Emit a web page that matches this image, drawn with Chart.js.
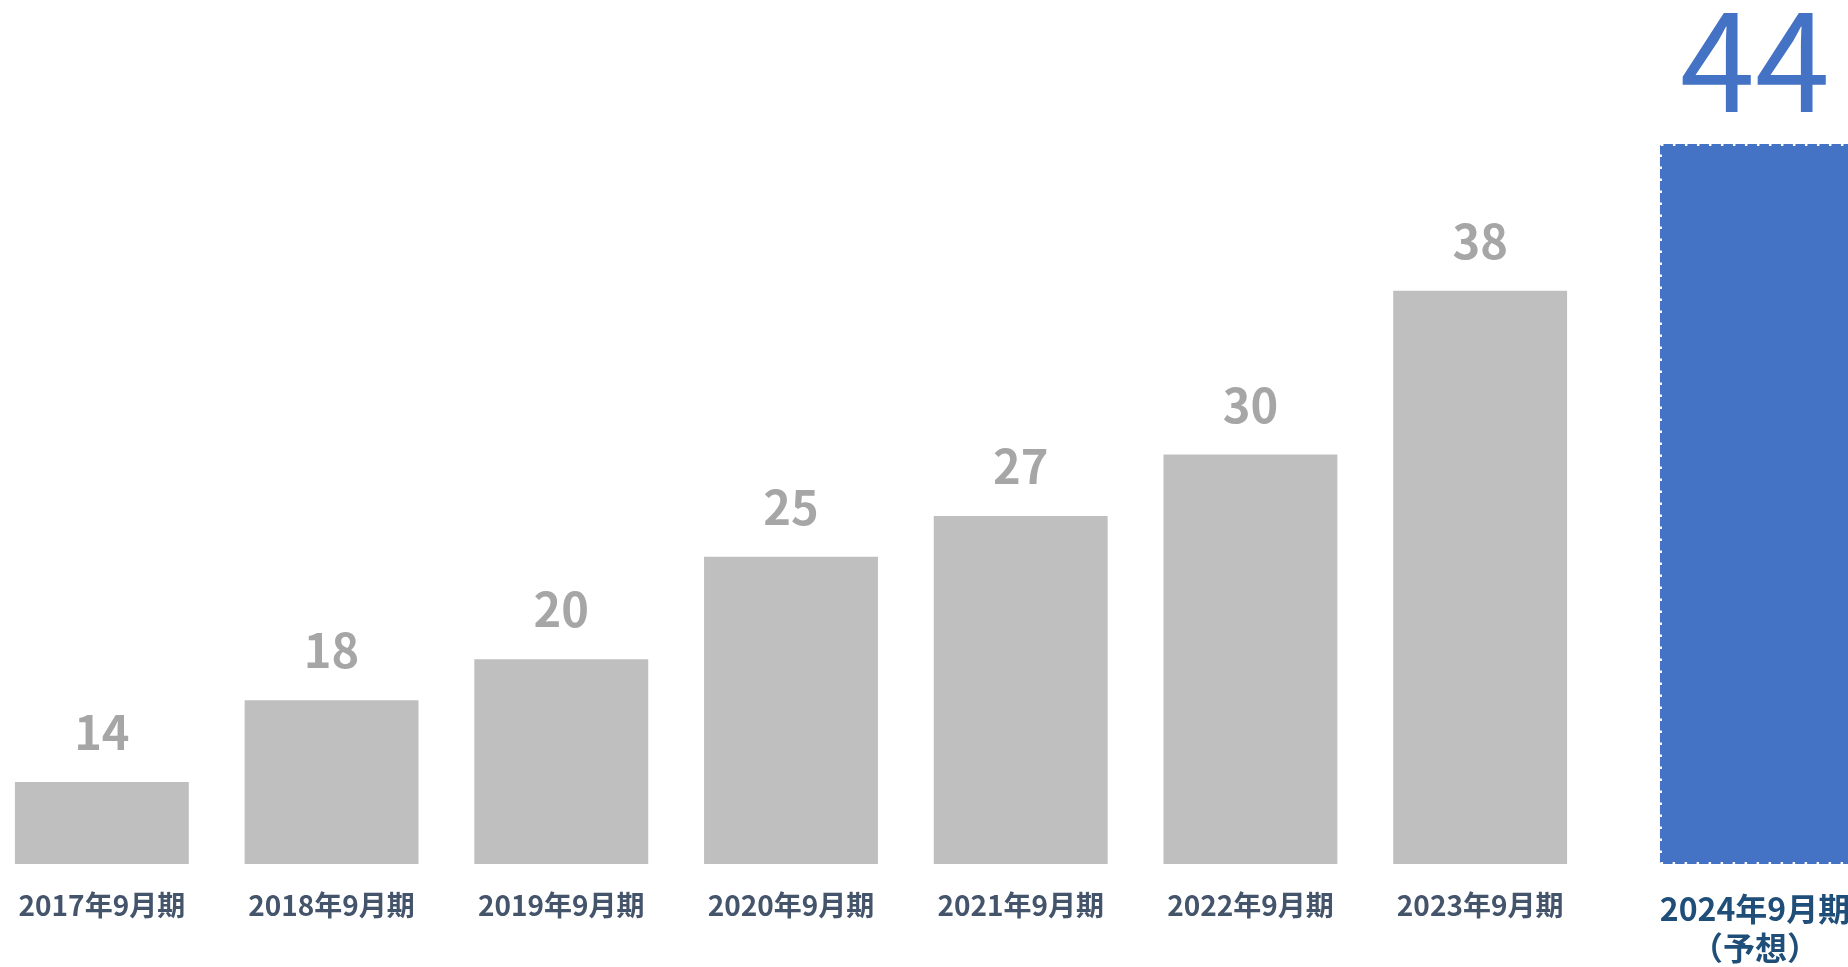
<!DOCTYPE html>
<html lang="ja">
<head>
<meta charset="utf-8">
<title>期別推移</title>
<script src="https://cdn.jsdelivr.net/npm/chart.js@4.4.1/dist/chart.umd.min.js"></script>
<style>
    html, body { margin: 0; padding: 0; background: #fff; overflow: hidden; }
    #wrap { position: relative; width: 1848px; height: 967px; overflow: hidden; }
    #myChart { position: absolute; left: -13px; top: 0; }
</style>
</head>
<body>
<div id="wrap"><canvas id="myChart" width="1928" height="967"></canvas></div>
<script>
const periods = ['2017年9月期', '2018年9月期', '2019年9月期', '2020年9月期', '2021年9月期', '2022年9月期', '2023年9月期'];
const results = [14, 18, 20, 25, 27, 30, 38];
const forecastPeriods = [['2024年9月期', '（予想）']];
const forecasts = [44];

const FONT = '"Noto Sans CJK JP", "Noto Sans", sans-serif';
Chart.defaults.font.family = FONT;

// the scales sit side by side in one stack, so their label overflow must not pad the chart area
const noSidePadding = (scale) => {
    scale.paddingLeft = 0;
    scale.paddingRight = 0;
};

const barLabels = {
    id: 'barLabels',
    afterDatasetsDraw(chart) {
        const ctx = chart.ctx;
        chart.data.datasets.forEach((ds, i) => {
            chart.getDatasetMeta(i).data.forEach((bar, j) => {
                ctx.save();
                if (ds.dashedEdge) {
                    ctx.strokeStyle = '#ffffff';
                    ctx.lineWidth = 2;
                    ctx.setLineDash([2.5, 9.5]);
                    ctx.strokeRect(bar.x - bar.width / 2 + 1, bar.y + 1, bar.width - 2, bar.base - bar.y - 2);
                    ctx.setLineDash([]);
                }
                ctx.fillStyle = ds.labelColor;
                ctx.font = ds.labelFont;
                ctx.textAlign = 'center';
                ctx.textBaseline = 'alphabetic';
                ctx.fillText(String(ds.data[j]), bar.x, bar.y - 32);
                ctx.restore();
            });
        });
    }
};

const ctx = document.getElementById('myChart');
const myChart = new Chart(ctx, {
    type: 'bar',
    data: {
        datasets: [
            {
                label: '実績',
                data: results,
                xAxisID: 'x',
                yAxisID: 'y',
                grouped: false,
                backgroundColor: '#BFBFBF',
                borderWidth: 0,
                categoryPercentage: 1,
                barPercentage: 0.757,
                labelColor: '#A6A6A6',
                labelFont: 'bold 47px ' + FONT
            },
            {
                label: '予想',
                data: forecasts,
                xAxisID: 'x2',
                yAxisID: 'y2',
                grouped: false,
                backgroundColor: '#4472C4',
                borderWidth: 0,
                categoryPercentage: 1,
                barPercentage: 0.594,
                labelColor: '#4472C4',
                labelFont: '135px ' + FONT,
                dashedEdge: true
            }
        ]
    },
    options: {
        responsive: false,
        animation: false,
        layout: { padding: 0 },
        plugins: {
            legend: { display: false },
            tooltip: { enabled: false }
        },
        scales: {
            x: {
                type: 'category',
                labels: periods,
                position: 'bottom',
                stack: 'periods',
                stackWeight: 1608,
                offset: true,
                grid: { display: false, drawTicks: true, tickLength: 25 },
                border: { display: false },
                ticks: {
                    color: '#44546A',
                    font: { size: 28, weight: 'bold', lineHeight: 1.2 },
                    padding: 0,
                    autoSkip: false,
                    maxRotation: 0,
                    minRotation: 0
                },
                // empty title keeps this box as tall as the two-line forecast box
                title: { display: true, text: '', padding: 0, font: { size: 10, lineHeight: '44.4px' } },
                afterFit: noSidePadding
            },
            x2: {
                type: 'category',
                labels: forecastPeriods,
                position: 'bottom',
                stack: 'periods',
                stackWeight: 320,
                offset: true,
                grid: { display: false, drawTicks: true, tickLength: 25 },
                border: { display: false },
                ticks: {
                    color: '#1F4E79',
                    font: { size: 32, weight: 'bold', lineHeight: 1.22 },
                    padding: 0,
                    autoSkip: false,
                    maxRotation: 0,
                    minRotation: 0
                },
                afterFit: noSidePadding
            },
            y: {
                display: false,
                min: 10,
                max: 52.2
            },
            y2: {
                display: false,
                min: 0,
                max: 52.8
            }
        }
    },
    plugins: [barLabels]
});
</script>
</body>
</html>
